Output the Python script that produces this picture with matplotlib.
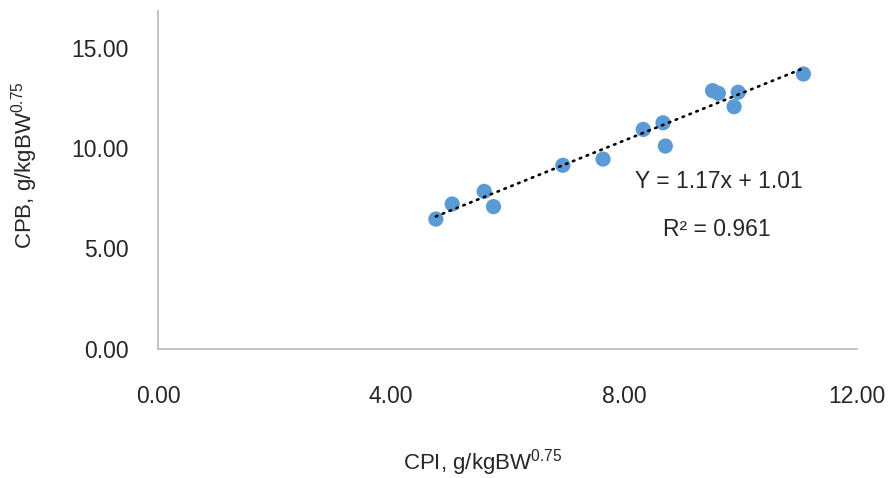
import numpy as np
import matplotlib
matplotlib.use('Agg')
from matplotlib import pyplot as plt

# data
cpi = [4.77, 5.05, 5.60, 5.76, 6.95, 7.64, 8.33, 8.67, 8.71, 9.52, 9.62, 9.96, 9.89, 11.08]
cpb = [6.46, 7.21, 7.84, 7.08, 9.14, 9.45, 10.93, 11.26, 10.10, 12.86, 12.73, 12.78, 12.06, 13.69]
slope = 1.17
intercept = 1.01
eq_text = 'Y = 1.17x + 1.01'
r2_text = 'R² = 0.961'
x_ticks = [0, 4, 8, 12]
y_ticks = [0, 5, 10, 15]

plt.rcParams['font.family'] = ['Liberation Sans', 'DejaVu Sans']
plt.rcParams['mathtext.default'] = 'regular'
txt_color = '#262626'

W, H = 891, 478
fig = plt.figure(figsize=(W / 100, H / 100), dpi=100)
ax = fig.add_axes([158 / W, 1 - 348.7 / H, (857 - 158) / W, (348.7 - 11) / H])

ax.scatter(cpi, cpb, s=120, color='#5B9BD5', edgecolors='none', zorder=2)

xl = np.array([min(cpi), max(cpi)])
ax.plot(xl, slope * xl + intercept, color='black', lw=1.9,
        linestyle=(0, (0.6, 2.2)), dash_capstyle='round', zorder=3)

ax.set_xlim(0, 12)
ax.set_ylim(0, 16.83)
ax.set_xticks(x_ticks)
ax.set_yticks(y_ticks)
ax.set_xticklabels([f'{v:.2f}' for v in x_ticks])
ax.set_yticklabels([f'{v:.2f}' for v in y_ticks])
ax.tick_params(length=0, labelsize=16.5, colors=txt_color)
ax.tick_params(axis='x', pad=26)
ax.tick_params(axis='y', pad=21)

for s in ['top', 'right']:
    ax.spines[s].set_visible(False)
for s in ['left', 'bottom']:
    ax.spines[s].set_color('#BFBFBF')
    ax.spines[s].set_linewidth(1.3)

fig.text(483 / W, 1 - 463 / H, 'CPI, g/kgBW$^{0.75}$', fontsize=16, color=txt_color,
         ha='center', va='center')
fig.text(25 / W, 1 - 165 / H, 'CPB, g/kgBW$^{0.75}$', fontsize=16, color=txt_color,
         ha='center', va='center', rotation=90)

ax.text(9.63, 8.35, eq_text, fontsize=16.5, color=txt_color, ha='center', va='center')
ax.text(9.6, 5.95, r2_text, fontsize=16.5, color=txt_color, ha='center', va='center')

plt.savefig('out.png', dpi=100)
